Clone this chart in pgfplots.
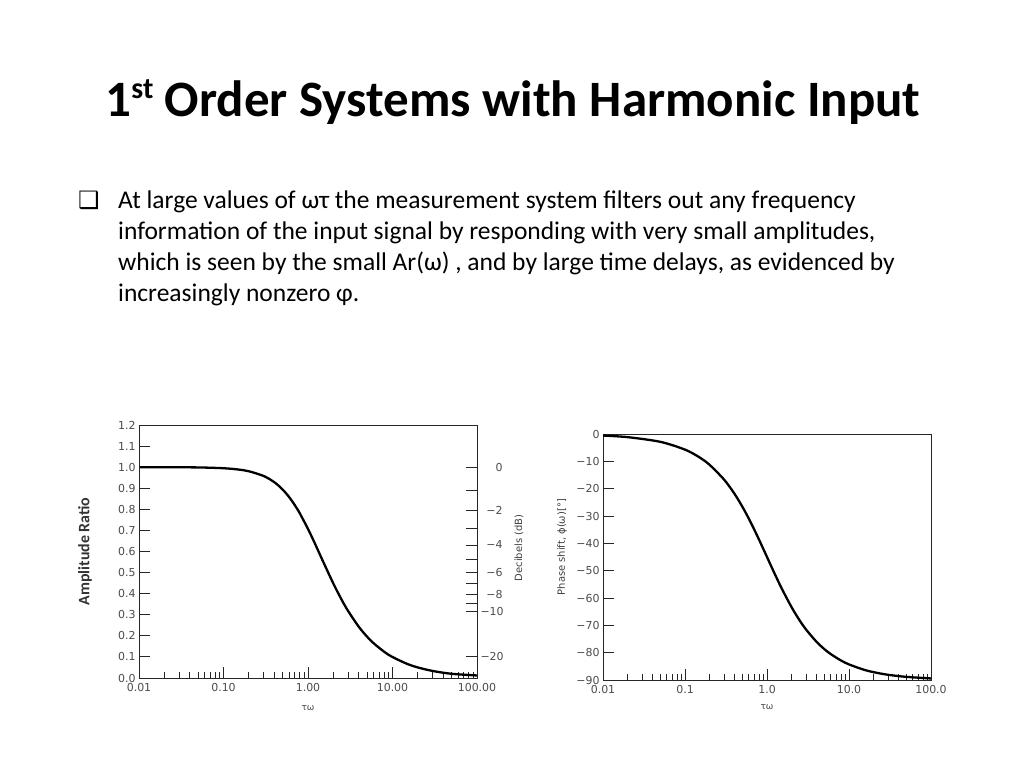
\documentclass[border=0pt]{standalone}
\usepackage{fontspec}
\setmainfont{Carlito}
\newfontfamily\dejavu{DejaVu Sans}
\usepackage{pgfplots}
\usepackage{pgfplotstable}
\pgfplotsset{compat=1.18}

% amplitude ratio and phase of the first order system
\pgfplotstableread{
x ar
0.01 1.0000
0.02 0.9998
0.05 0.9988
0.1 0.9950
0.15 0.9889
0.2 0.9806
0.3 0.9578
0.4 0.9285
0.5 0.8944
0.6 0.8575
0.7 0.8192
0.8 0.7809
1.0 0.7071
1.2 0.6402
1.5 0.5547
2.0 0.4472
2.5 0.3714
3.0 0.3162
4.0 0.2425
5.0 0.1961
6.0 0.1644
8.0 0.1240
10 0.0995
15 0.0665
20 0.0499
30 0.0333
50 0.0200
100 0.0120
}\ampdata
\pgfplotstableread{
x phi
0.01 -0.57
0.02 -1.15
0.05 -2.86
0.1 -5.71
0.15 -8.53
0.2 -11.31
0.3 -16.70
0.4 -21.80
0.5 -26.57
0.6 -30.96
0.7 -34.99
0.8 -38.66
1.0 -45.00
1.2 -50.19
1.5 -56.31
2.0 -63.43
2.5 -68.20
3.0 -71.57
4.0 -75.96
5.0 -78.69
6.0 -80.54
8.0 -82.87
10 -84.29
15 -86.19
20 -87.14
30 -88.09
50 -88.85
100 -89.43
}\phasedata

\pgfplotsset{
  every axis/.append style={
    scale only axis,
    axis line style={line width=1bp, black!85},
    tick align=inside,
    major tick length=11bp, minor tick length=6bp,
    tick style={black!85, line width=0.9bp},
    ticklabel style={font=\dejavu\fontsize{11}{12}\selectfont, text=black!70},
    xticklabel style={yshift=-2bp},
  },
}

\begin{document}
\begin{tikzpicture}[x=1bp, y=-1bp]
\fill[white] (0,0) rectangle (1024,768);
\useasboundingbox (0,0) rectangle (1024,768);

\node[anchor=base, font=\fontsize{51.2}{60}\selectfont\bfseries] at (513,116)
  {1\raisebox{17bp}{\fontsize{30}{30}\selectfont st} Order Systems with Harmonic Input};

\node[anchor=base west, font=\dejavu\fontsize{24}{28}\selectfont, inner sep=0pt] at (78,208) {❑};
\begin{scope}[every node/.style={anchor=base west, inner sep=0pt, font=\fontsize{25.6}{31}\selectfont}]
\node at (118,208) {At large values of ωτ the measurement system filters out any frequency};
\node at (118,239) {information of the input signal by responding with very small amplitudes,};
\node at (118,270) {which is seen by the small Ar(ω) , and by large time delays, as evidenced by};
\node at (118,301) {increasingly nonzero φ.};
\end{scope}

% amplitude ratio
\begin{axis}[
  at={(139bp,-678bp)}, anchor=south west,
  width=338bp, height=253bp,
  xmode=log, xmin=0.01, xmax=100,
  ymin=0, ymax=1.2,
  xtick pos=left, ytick pos=left,
  xtick={0.01,0.1,1,10,100},
  minor xtick={0.02,0.03,0.04,0.05,0.06,0.07,0.08,0.09,0.2,0.3,0.4,0.5,0.6,0.7,0.8,0.9,2,3,4,5,6,7,8,9,20,30,40,50,60,70,80,90},
  xticklabels={0.01,0.10,1.00,10.00,100.00},
  ytick={0,0.1,0.2,0.3,0.4,0.5,0.6,0.7,0.8,0.9,1.0,1.1,1.2},
  yticklabels={0.0,0.1,0.2,0.3,0.4,0.5,0.6,0.7,0.8,0.9,1.0,1.1,1.2},
  xlabel={τω},
  xlabel style={at={(rel axis cs:0.5,-0.119)}, anchor=center,
    font=\dejavu\fontsize{9}{10}\selectfont, text=black!70},
  ylabel={Amplitude Ratio},
  ylabel style={at={(rel axis cs:-0.16,0.5)}, anchor=center,
    font=\fontsize{16}{18}\selectfont\bfseries, text=black!80},
]
\addplot[black, line width=2.3bp, smooth] table[x=x, y=ar] {\ampdata};
\end{axis}

% decibel scale on the right
\begin{axis}[
  at={(139bp,-678bp)}, anchor=south west,
  width=338bp, height=253bp,
  xmode=log, xmin=0.01, xmax=100,
  ymin=0, ymax=1.2,
  xtick=\empty,
  ytick pos=right, yticklabel pos=right,
  ytick={0.1,0.316,0.355,0.398,0.447,0.501,0.562,0.631,0.708,0.794,0.891,1.0},
  yticklabels={−20,−10,{},−8,{},−6,{},−4,{},−2,{},0},
  yticklabel style={text width=22bp, align=right},
  ylabel={Decibels (dB)},
  ylabel style={at={(rel axis cs:1.124,0.514)}, anchor=center,
    font=\dejavu\fontsize{10}{12}\selectfont, text=black!75},
]
\end{axis}

% phase shift
\begin{axis}[
  at={(603bp,-680bp)}, anchor=south west,
  width=328bp, height=246bp,
  xmode=log, xmin=0.01, xmax=100,
  ymin=-90, ymax=0,
  xtick pos=left, ytick pos=left,
  xtick={0.01,0.1,1,10,100},
  minor xtick={0.02,0.03,0.04,0.05,0.06,0.07,0.08,0.09,0.2,0.3,0.4,0.5,0.6,0.7,0.8,0.9,2,3,4,5,6,7,8,9,20,30,40,50,60,70,80,90},
  xticklabels={0.01,0.1,1.0,10.0,100.0},
  ytick={-90,-80,-70,-60,-50,-40,-30,-20,-10,0},
  yticklabels={−90,−80,−70,−60,−50,−40,−30,−20,−10,0},
  xlabel={τω},
  xlabel style={at={(rel axis cs:0.5,-0.11)}, anchor=center,
    font=\dejavu\fontsize{9}{10}\selectfont, text=black!70},
  ylabel={Phase shift, ϕ(ω)[°]},
  ylabel style={at={(rel axis cs:-0.125,0.54)}, anchor=center,
    font=\dejavu\fontsize{10}{12}\selectfont, text=black!75},
]
\addplot[black, line width=2.3bp, smooth] table[x=x, y=phi] {\phasedata};
\end{axis}
\end{tikzpicture}
\end{document}
